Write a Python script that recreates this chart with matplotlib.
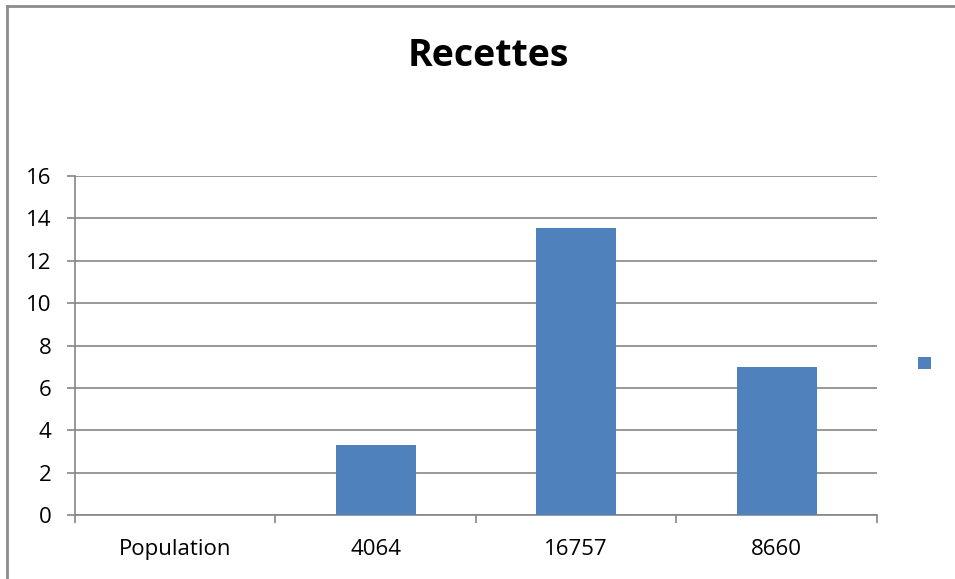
import matplotlib.pyplot as plt
from matplotlib.lines import Line2D

categories = ['Population', '4064', '16757', '8660']
values = [0, 3.3, 13.55, 7.0]
yticks = [0, 2, 4, 6, 8, 10, 12, 14, 16]

plt.rcParams['font.family'] = ['Open Sans', 'DejaVu Sans']

fig = plt.figure(figsize=(9.55, 5.79), dpi=100)
ax = fig.add_axes([0.0785, 0.1105, 0.8398, 0.5855])

grey = '#868686'
bar_color = '#4f81bd'

x = list(range(len(categories)))
bars = ax.bar(x, values, width=0.4, color=bar_color, zorder=3)

ax.set_xlim(-0.5, len(categories) - 0.5)
ax.set_ylim(0, 16)
ax.set_yticks(yticks)
ax.set_yticklabels([str(t) for t in yticks], fontsize=16)
ax.set_xticks(x)
ax.set_xticklabels(categories, fontsize=16)
ax.set_xticks([i - 0.5 for i in range(len(categories) + 1)], minor=True)

ax.tick_params(axis='x', which='major', length=0, pad=17.5)
ax.tick_params(axis='x', which='minor', length=6, color=grey, width=1.2)
ax.tick_params(axis='y', length=6, color=grey, width=1.2, pad=11)

ax.grid(axis='y', color=grey, linewidth=1.2, zorder=0)
for side in ['top', 'right']:
    ax.spines[side].set_visible(False)
for side in ['left', 'bottom']:
    ax.spines[side].set_color(grey)
    ax.spines[side].set_linewidth(1.2)

fig.text(0.511, 0.903, 'Recettes', ha='center', va='center',
         fontsize=27, fontweight='bold')

ax.legend([bars], [''], loc='center left', bbox_to_anchor=(1.035, 0.445),
          frameon=False, handlelength=1.0, handleheight=1.0)

# outer chart border, only top and left edges fall inside the canvas
bx, by = 6.5 / 955, 1 - 5.5 / 579
fig.lines.append(Line2D([bx, bx], [0, by], transform=fig.transFigure,
                        color='#8c8c8c', linewidth=2))
fig.lines.append(Line2D([bx, 1], [by, by], transform=fig.transFigure,
                        color='#8c8c8c', linewidth=2))

fig.savefig('out.png', dpi=100)
